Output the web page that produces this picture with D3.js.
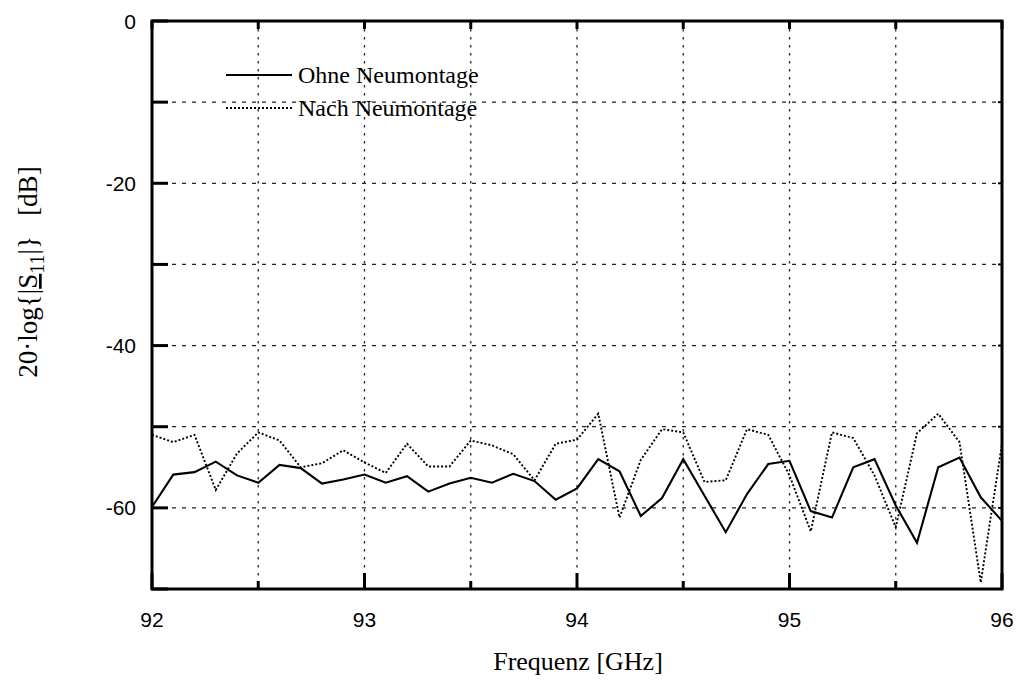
<!DOCTYPE html>
<html>
<head>
<meta charset="utf-8">
<script src="https://cdn.jsdelivr.net/npm/d3@7"></script>
<style>
  html, body { margin: 0; padding: 0; background: #fff; }
  svg { display: block; }
</style>
</head>
<body>
<svg id="chart" width="1021" height="681"></svg>
<script>
// Frequency axis (GHz), one sample every 0.1 GHz
const freq = d3.range(41).map(i => +(92 + i * 0.1).toFixed(1));

// |S11| in dB before re-mounting
const ohneNeumontage = [
  -59.9, -55.9, -55.6, -54.3, -56.0, -56.9, -54.7, -55.1, -57.0, -56.5,
  -55.9, -56.9, -56.1, -58.0, -57.0, -56.3, -56.9, -55.8, -56.7, -59.0,
  -57.6, -54.0, -55.5, -61.0, -58.8, -54.0, -58.5, -63.0, -58.3, -54.6,
  -54.2, -60.4, -61.2, -55.0, -54.0, -59.7, -64.3, -55.0, -53.8, -58.7,
  -61.6
];

// |S11| in dB after re-mounting
const nachNeumontage = [
  -51.0, -51.9, -51.0, -57.8, -53.3, -50.7, -51.7, -55.0, -54.5, -52.9,
  -54.4, -55.7, -52.1, -54.9, -54.9, -51.7, -52.3, -53.4, -56.6, -52.1,
  -51.6, -48.4, -61.2, -54.1, -50.3, -50.7, -56.8, -56.6, -50.3, -51.0,
  -56.0, -62.9, -50.7, -51.4, -56.0, -62.4, -50.8, -48.4, -51.9, -69.2,
  -52.1
];

const xTickLabels = [92, 93, 94, 95, 96];
const yTickLabels = [0, -20, -40, -60];
const legendLabels = ["Ohne Neumontage", "Nach Neumontage"];

const svg = d3.select("#chart");
const M = { left: 152, right: 1002, top: 21, bottom: 589 };

const x = d3.scaleLinear().domain([92, 96]).range([M.left, M.right]);
const y = d3.scaleLinear().domain([-70, 0]).range([M.bottom, M.top]);

const sans = "'Liberation Sans', Arial, sans-serif";
const serif = "'Liberation Serif', 'Times New Roman', serif";

// Grid lines
const g = svg.append("g");
const xGrid = d3.range(92.5, 96, 0.5);
const yGrid = d3.range(-60, 0, 10);
g.selectAll("line.vg").data(xGrid).join("line")
  .attr("x1", d => x(d)).attr("x2", d => x(d))
  .attr("y1", M.top).attr("y2", M.bottom)
  .attr("stroke", "#222").attr("stroke-width", 1.3)
  .attr("stroke-dasharray", "2.5,5.5");
g.selectAll("line.hg").data(yGrid).join("line")
  .attr("x1", M.left).attr("x2", M.right)
  .attr("y1", d => y(d)).attr("y2", d => y(d))
  .attr("stroke", "#222").attr("stroke-width", 1.3)
  .attr("stroke-dasharray", "4,6");

// Data lines
const line = d3.line().x((d, i) => x(freq[i])).y(d => y(d));
svg.append("path").datum(nachNeumontage)
  .attr("d", line).attr("fill", "none")
  .attr("stroke", "#000").attr("stroke-width", 1.9)
  .attr("stroke-dasharray", "2,2");
svg.append("path").datum(ohneNeumontage)
  .attr("d", line).attr("fill", "none")
  .attr("stroke", "#000").attr("stroke-width", 2.1);

// Ticks on the frame
const ticks = svg.append("g").attr("stroke", "#000");
d3.range(92, 96.01, 0.5).forEach(v => {
  const major = Math.abs(v - Math.round(v)) < 1e-6;
  ticks.append("line")
    .attr("x1", x(v)).attr("x2", x(v))
    .attr("y1", M.bottom).attr("y2", M.bottom - (major ? 16 : 8))
    .attr("stroke-width", 3);
  ticks.append("line")
    .attr("x1", x(v)).attr("x2", x(v))
    .attr("y1", M.top).attr("y2", M.top + 8)
    .attr("stroke-width", 3);
});
d3.range(-70, 0.01, 10).forEach(v => {
  ticks.append("line")
    .attr("x1", M.left).attr("x2", M.left + 16)
    .attr("y1", y(v)).attr("y2", y(v))
    .attr("stroke-width", 3);
  ticks.append("line")
    .attr("x1", M.right).attr("x2", M.right - 4)
    .attr("y1", y(v)).attr("y2", y(v))
    .attr("stroke-width", 2);
});

// Frame
svg.append("rect")
  .attr("x", M.left).attr("y", M.top)
  .attr("width", M.right - M.left).attr("height", M.bottom - M.top)
  .attr("fill", "none").attr("stroke", "#000").attr("stroke-width", 3);

// Tick labels
svg.append("g").selectAll("text").data(xTickLabels).join("text")
  .attr("x", d => x(d)).attr("y", 627)
  .attr("text-anchor", "middle")
  .attr("font-family", sans).attr("font-size", 21)
  .text(d => d);
svg.append("g").selectAll("text").data(yTickLabels).join("text")
  .attr("x", 136).attr("y", d => y(d) + 7.5)
  .attr("text-anchor", "end")
  .attr("font-family", sans).attr("font-size", 21)
  .text(d => d);

// Axis titles
svg.append("text")
  .attr("x", 578).attr("y", 670)
  .attr("text-anchor", "middle")
  .attr("font-family", serif).attr("font-size", 26)
  .text("Frequenz [GHz]");

const yt = svg.append("text")
  .attr("transform", "translate(37,272) rotate(-90)")
  .attr("text-anchor", "middle")
  .attr("font-family", serif).attr("font-size", 27)
  .attr("xml:space", "preserve");
yt.append("tspan").text("20·log{|");
yt.append("tspan").attr("text-decoration", "underline").text("S");
yt.append("tspan").attr("dy", 7).attr("font-size", 20).text("11");
yt.append("tspan").attr("dy", -7).text("|}   [dB]");

// Legend
const legend = svg.append("g");
const styles = [null, "2,2"];
legendLabels.forEach((lab, i) => {
  const ly = 75 + i * 33;
  legend.append("line")
    .attr("x1", 226).attr("x2", 292)
    .attr("y1", ly).attr("y2", ly)
    .attr("stroke", "#000").attr("stroke-width", i === 0 ? 2.1 : 1.9)
    .attr("stroke-dasharray", styles[i]);
  legend.append("text")
    .attr("x", 298).attr("y", ly + 8)
    .attr("font-family", serif).attr("font-size", 24)
    .text(lab);
});
</script>
</body>
</html>
